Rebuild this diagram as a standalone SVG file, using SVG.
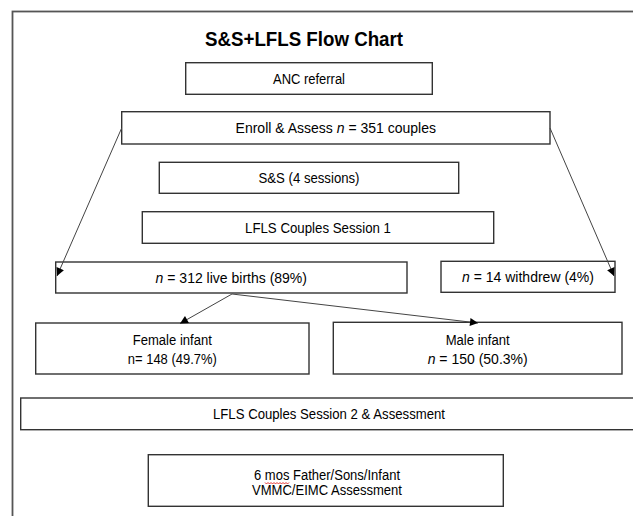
<svg xmlns="http://www.w3.org/2000/svg" width="633" height="516" viewBox="0 0 633 516">
<defs>
<style>
.box{fill:#fff;stroke:#333;stroke-width:1.4}
.t{font-family:"Liberation Sans",Arial,Helvetica,sans-serif;font-size:14px;fill:#000;text-anchor:middle}
.title{font-family:"Liberation Sans",Arial,Helvetica,sans-serif;font-size:20px;font-weight:bold;fill:#000;text-anchor:middle}
.it{font-style:italic}
.conn{stroke:#444;stroke-width:1;fill:none;marker-end:url(#arr)}
</style>
<marker id="arr" viewBox="0 0 10 10" refX="10" refY="5" markerWidth="9" markerHeight="8" markerUnits="userSpaceOnUse" orient="auto">
<path d="M0,0 L10,5 L0,10 z" fill="#000"/>
</marker>
</defs>
<rect x="0" y="0" width="633" height="516" fill="#fff"/>
<rect x="12.5" y="11.5" width="700" height="600" fill="none" stroke="#555" stroke-width="1.8"/>
<text class="title" x="304" y="46" textLength="198" lengthAdjust="spacingAndGlyphs">S&amp;S+LFLS Flow Chart</text>

<g id="anc">
<rect class="box" x="185.7" y="62.7" width="246.6" height="31.6"/>
<text class="t" x="309" y="84" textLength="72" lengthAdjust="spacingAndGlyphs">ANC referral</text>
</g>
<g id="enroll">
<rect class="box" x="121.7" y="111.7" width="428.3" height="32.3"/>
<text class="t" x="335.8" y="133">Enroll &amp; Assess <tspan class="it">n</tspan> = 351 couples</text>
</g>
<g id="ss">
<rect class="box" x="159.3" y="162.3" width="299.4" height="31"/>
<text class="t" x="309" y="182.5" textLength="101" lengthAdjust="spacingAndGlyphs">S&amp;S (4 sessions)</text>
</g>
<g id="lfls1">
<rect class="box" x="142.3" y="211.7" width="351.4" height="31.6"/>
<text class="t" x="318" y="232.5" textLength="146" lengthAdjust="spacingAndGlyphs">LFLS Couples Session 1</text>
</g>
<g id="births">
<rect class="box" x="55.7" y="262" width="351.3" height="31"/>
<text class="t" x="231.3" y="282.5"><tspan class="it">n</tspan> = 312 live births (89%)</text>
</g>
<g id="withdrew">
<rect class="box" x="441" y="261.3" width="174" height="31"/>
<text class="t" x="528" y="282"><tspan class="it">n</tspan> = 14 withdrew (4%)</text>
</g>
<g id="female">
<rect class="box" x="35.7" y="323" width="273.3" height="51"/>
<text class="t" x="172.3" y="345" textLength="79" lengthAdjust="spacingAndGlyphs">Female infant</text>
<text class="t" x="172.3" y="364" textLength="89" lengthAdjust="spacingAndGlyphs">n= 148 (49.7%)</text>
</g>
<g id="male">
<rect class="box" x="333.3" y="322.3" width="288.7" height="51.7"/>
<text class="t" x="477.7" y="345" textLength="64" lengthAdjust="spacingAndGlyphs">Male infant</text>
<text class="t" x="477.7" y="364"><tspan class="it">n</tspan> = 150 (50.3%)</text>
</g>
<g id="lfls2">
<rect class="box" x="20.7" y="398" width="640" height="31.7"/>
<text class="t" x="329" y="419" textLength="232" lengthAdjust="spacingAndGlyphs">LFLS Couples Session 2 &amp; Assessment</text>
</g>
<g id="sixmos">
<rect class="box" x="148.3" y="454.7" width="355" height="51.6"/>
<text class="t" x="327" y="479.5" textLength="146" lengthAdjust="spacingAndGlyphs">6 mos Father/Sons/Infant</text>
<text class="t" x="327" y="495" textLength="150" lengthAdjust="spacingAndGlyphs">VMMC/EIMC Assessment</text>
<path d="M265,482.5 l1.5,1.5 l1.5,-1.5 l1.5,1.5 l1.5,-1.5 l1.5,1.5 l1.5,-1.5 l1.5,1.5 l1.5,-1.5 l1.5,1.5 l1.5,-1.5 l1.5,1.5 l1.5,-1.5 l1.5,1.5 l1.5,-1.5 l1.5,1.5 l1.5,-1.5" fill="none" stroke="#e02020" stroke-width="0.9"/>
</g>

<g id="connectors">
<line class="conn" x1="121.7" y1="128" x2="57" y2="276"/>
<line class="conn" x1="550" y1="128" x2="614" y2="276"/>
<line class="conn" x1="232" y1="294" x2="180" y2="323.5"/>
<line class="conn" x1="232" y1="294" x2="478" y2="323"/>
</g>
</svg>
